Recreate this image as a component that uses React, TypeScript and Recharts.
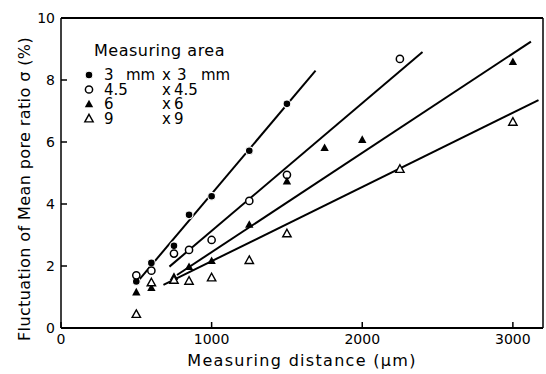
import { ComposedChart, Scatter, Line, XAxis, YAxis, ReferenceLine, Label } from "recharts";

const xTicks = [0, 1000, 2000, 3000];
const yTicks = [0, 2, 4, 6, 8, 10];

// measured points, one array per measuring area
const area3 = [
  { x: 500, y: 1.5 }, { x: 600, y: 2.1 }, { x: 750, y: 2.65 }, { x: 850, y: 3.65 },
  { x: 1000, y: 4.25 }, { x: 1250, y: 5.72 }, { x: 1500, y: 7.23 },
];
const area45 = [
  { x: 500, y: 1.7 }, { x: 600, y: 1.85 }, { x: 750, y: 2.4 }, { x: 850, y: 2.52 },
  { x: 1000, y: 2.84 }, { x: 1250, y: 4.1 }, { x: 1500, y: 4.94 }, { x: 2250, y: 8.68 },
];
const area6 = [
  { x: 500, y: 1.16 }, { x: 600, y: 1.3 }, { x: 750, y: 1.66 }, { x: 850, y: 1.98 },
  { x: 1000, y: 2.17 }, { x: 1250, y: 3.34 }, { x: 1500, y: 4.74 }, { x: 1750, y: 5.82 },
  { x: 2000, y: 6.08 }, { x: 3000, y: 8.59 },
];
const area9 = [
  { x: 500, y: 0.45 }, { x: 600, y: 1.47 }, { x: 750, y: 1.55 }, { x: 850, y: 1.52 },
  { x: 1000, y: 1.63 }, { x: 1250, y: 2.19 }, { x: 1500, y: 3.05 }, { x: 2250, y: 5.13 },
  { x: 3000, y: 6.65 },
];

// fitted straight lines (end points)
const fit3 = [{ x: 500, y: 1.45 }, { x: 1690, y: 8.3 }];
const fit45 = [{ x: 720, y: 1.98 }, { x: 2400, y: 8.9 }];
const fit6 = [{ x: 770, y: 1.71 }, { x: 3120, y: 9.24 }];
const fit9 = [{ x: 680, y: 1.39 }, { x: 3170, y: 7.35 }];

const legendRows = [
  { w: "3", u: "mm", h: "3", hu: "mm", marker: "dot" },
  { w: "4.5", u: "", h: "4.5", hu: "", marker: "ring" },
  { w: "6", u: "", h: "6", hu: "", marker: "tri" },
  { w: "9", u: "", h: "9", hu: "", marker: "otri" },
];

const FONT = "'DejaVu Sans', sans-serif";

const Dot = ({ cx, cy }: any) => (
  <circle cx={cx} cy={cy} r={3.9} fill="#000" stroke="#fff" strokeWidth={1.2} />
);
const Ring = ({ cx, cy }: any) => (
  <circle cx={cx} cy={cy} r={3.6} fill="#fff" stroke="#000" strokeWidth={1.5} />
);
const triPts = (cx: number, cy: number) => {
  const s = 4.2;
  return `${cx},${cy - s} ${cx + s},${cy + s * 0.8} ${cx - s},${cy + s * 0.8}`;
};
const Tri = ({ cx, cy }: any) => <polygon points={triPts(cx, cy)} fill="#000" />;
const OTri = ({ cx, cy }: any) => (
  <polygon points={triPts(cx, cy)} fill="#fff" stroke="#000" strokeWidth={1.4} />
);
const markers: Record<string, any> = { dot: Dot, ring: Ring, tri: Tri, otri: OTri };

const YTick = ({ x, y, payload }: any) => (
  <g>
    <line x1={x + 6} x2={x + 12} y1={y} y2={y} stroke="#000" strokeWidth={1.5} />
    <text x={x} y={y} textAnchor="end" dominantBaseline="central" fontSize={14} fontFamily={FONT} fill="#000">
      {payload.value}
    </text>
  </g>
);

const XTick = ({ x, y, payload }: any) => (
  <g>
    <line x1={x} x2={x} y1={y - 4} y2={y - 10} stroke="#000" strokeWidth={1.5} />
    <text x={x} y={y + 2} textAnchor="middle" dominantBaseline="hanging" fontSize={14} fontFamily={FONT} fill="#000">
      {payload.value}
    </text>
  </g>
);

const YTitle = (p: any) => {
  const vb = p.viewBox;
  const cx = vb.x + 24;
  const cy = vb.y + vb.height / 2 + 16;
  return (
    <text
      x={cx}
      y={cy}
      transform={`rotate(-90 ${cx} ${cy})`}
      textAnchor="middle"
      dominantBaseline="central"
      fontSize={16}
      letterSpacing={0.4}
      fontFamily={FONT}
      fill="#000"
    >
      Fluctuation of Mean pore ratio σ (%)
    </text>
  );
};

function LegendBox() {
  const txt = { fontSize: 15, fontFamily: FONT, fill: "#000" };
  return (
    <svg width={546} height={374} style={{ position: "absolute", left: 0, top: 0, pointerEvents: "none" }}>
      <text x={94} y={50} dominantBaseline="central" {...txt} fontSize={16} letterSpacing={0.5}>
        Measuring area
      </text>
      {legendRows.map((r, i) => {
        const y = 75 + i * 14.5;
        const M = markers[r.marker];
        return (
          <g key={i}>
            <M cx={89} cy={y} />
            <text y={y} dominantBaseline="central" {...txt}>
              <tspan x={104}>{r.w}</tspan>
              {r.u && <tspan x={126}>{r.u}</tspan>}
              <tspan x={162}>x</tspan>
              <tspan x={i === 0 ? 177 : 174}>{r.h}</tspan>
              {r.hu && <tspan x={201}>{r.hu}</tspan>}
            </text>
          </g>
        );
      })}
    </svg>
  );
}

export default function App() {
  return (
    <div style={{ position: "absolute", left: 0, top: 0, width: 546, height: 374, background: "#fff" }}>
      <ComposedChart width={546} height={374} margin={{ top: 18, right: 3, bottom: 0, left: 0 }}>
        <XAxis
          dataKey="x"
          type="number"
          domain={[0, 3200]}
          allowDataOverflow
          ticks={xTicks}
          tick={<XTick />}
          tickLine={false}
          tickSize={0}
          tickMargin={4}
          height={46}
          axisLine={{ stroke: "#000", strokeWidth: 1.8 }}
        >
          <Label
            value="Measuring distance (μm)"
            position="insideBottom"
            offset={8}
            style={{ fontSize: 16, letterSpacing: 1.3, fontFamily: FONT, fill: "#000" }}
          />
        </XAxis>
        <YAxis
          dataKey="y"
          type="number"
          domain={[0, 10]}
          allowDataOverflow
          ticks={yTicks}
          tick={<YTick />}
          tickLine={false}
          tickSize={0}
          tickMargin={6}
          width={61}
          axisLine={{ stroke: "#000", strokeWidth: 1.5 }}
        >
          <Label content={<YTitle />} />
        </YAxis>
        <ReferenceLine y={10} stroke="#000" strokeWidth={1.8} />
        <ReferenceLine x={3200} stroke="#000" strokeWidth={1.5} />

        <Line data={fit3} dataKey="y" stroke="#000" strokeWidth={2} dot={false} activeDot={false} isAnimationActive={false} />
        <Line data={fit45} dataKey="y" stroke="#000" strokeWidth={2} dot={false} activeDot={false} isAnimationActive={false} />
        <Line data={fit6} dataKey="y" stroke="#000" strokeWidth={2} dot={false} activeDot={false} isAnimationActive={false} />
        <Line data={fit9} dataKey="y" stroke="#000" strokeWidth={2} dot={false} activeDot={false} isAnimationActive={false} />

        <Scatter data={area3} dataKey="y" shape={<Dot />} isAnimationActive={false} />
        <Scatter data={area45} dataKey="y" shape={<Ring />} isAnimationActive={false} />
        <Scatter data={area6} dataKey="y" shape={<Tri />} isAnimationActive={false} />
        <Scatter data={area9} dataKey="y" shape={<OTri />} isAnimationActive={false} />
      </ComposedChart>
      <LegendBox />
    </div>
  );
}
